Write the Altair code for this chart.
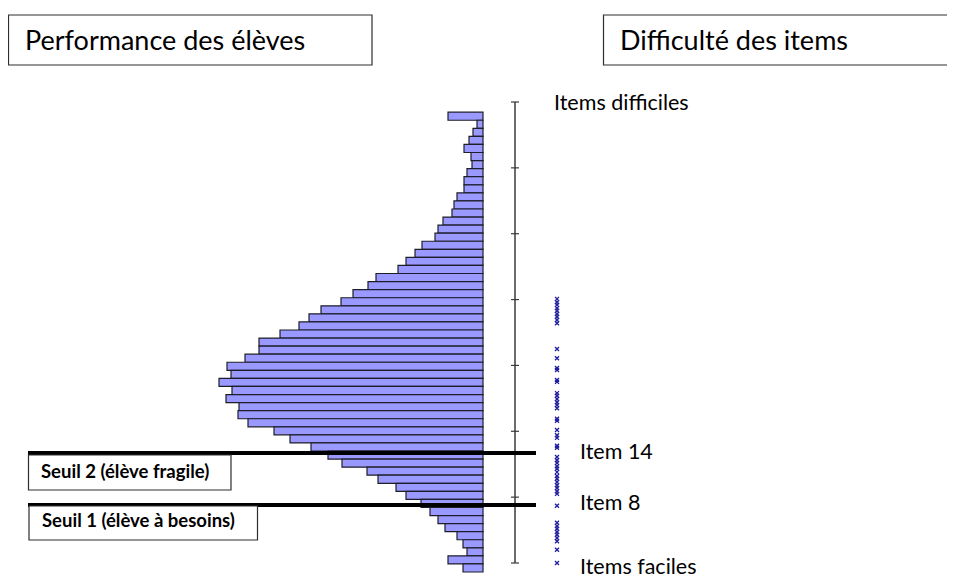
import altair as alt
import pandas as pd

# Student score distribution (bar lengths), listed from the top bin (hardest) to the bottom bin
bar_counts = [35, 6, 10, 14, 19, 12, 11, 16, 19, 19, 26, 29, 31, 40, 45, 48, 61, 68, 77, 85,
              107, 115, 130, 142, 162, 174, 184, 203, 224, 224, 238, 256, 252, 264, 251, 257,
              244, 245, 235, 209, 193, 172, 155, 141, 116, 105, 87, 77, 62, 53, 45, 38, 26,
              20, 16, 35, 20]
bin_bottom = -3.137
bin_width = 0.1225

# Item difficulties (logit scale)
item_difficulty = [1.01, 0.96, 0.92, 0.87, 0.83, 0.78, 0.74, 0.69, 0.64,
                   0.25, 0.11, -0.04, -0.07, -0.22, -0.25,
                   -0.42, -0.46, -0.51, -0.56, -0.60, -0.65, -0.81, -0.84, -0.98,
                   -1.06, -1.10, -1.22, -1.25,
                   -1.39, -1.44, -1.48, -1.53, -1.57, -1.62, -1.68, -1.72, -1.77,
                   -1.82, -1.86, -1.91, -1.95,
                   -2.13, -2.39, -2.44, -2.48, -2.53, -2.57, -2.62, -2.67, -2.80, -3.00]

threshold_names = ["Seuil 2 (élève fragile)", "Seuil 1 (élève à besoins)"]
threshold_values = [-1.33, -2.12]

axis_ticks = [-3, -2, -1, 0, 1, 2, 3, 4]

right_labels = ["Item 14", "Item 8", "Items faciles"]
right_label_values = [-1.33, -2.10, -3.07]
top_label = "Items difficiles"
top_label_value = 3.97

title_left = "Performance des élèves"
title_right = "Difficulté des items"

FONT = "Lato"
Y = alt.Scale(domain=[-3, 4], range=[555, 94])
X = alt.Scale(domain=[0, 300], range=[475, 175])

n = len(bar_counts)
bars_df = pd.DataFrame({
    "count": bar_counts,
    "lo": [bin_bottom + (n - 1 - i) * bin_width for i in range(n)],
})
bars_df["hi"] = bars_df["lo"] + bin_width

bars = alt.Chart(bars_df).mark_rect(fill="#9999ff", stroke="#1e1e2a", strokeWidth=1.2).encode(
    x=alt.X("count:Q", scale=X, axis=None),
    x2=alt.datum(0),
    y=alt.Y("lo:Q", scale=Y, axis=None),
    y2="hi:Q",
)

axis_df = pd.DataFrame({"v": [axis_ticks[0]], "v2": [axis_ticks[-1]]})
axis_line = alt.Chart(axis_df).mark_rule(color="#3a3a3a", strokeWidth=1.5).encode(
    x=alt.value(507),
    y=alt.Y("v:Q", scale=Y, axis=None),
    y2="v2:Q",
)
ticks_df = pd.DataFrame({"v": axis_ticks})
ticks = alt.Chart(ticks_df).mark_rule(color="#3a3a3a", strokeWidth=1.2).encode(
    x=alt.value(503), x2=alt.value(511),
    y=alt.Y("v:Q", scale=Y, axis=None),
)

items_df = pd.DataFrame({"d": item_difficulty})
items = alt.Chart(items_df).mark_point(
    shape="M -1 -1 L 1 1 M -1 1 L 1 -1", filled=False, stroke="#1c1ca0",
    strokeWidth=1.3, size=16, opacity=1,
).encode(
    x=alt.value(549),
    y=alt.Y("d:Q", scale=Y, axis=None),
)

thr_df = pd.DataFrame({"name": threshold_names, "v": threshold_values})
thr_lines = alt.Chart(thr_df).mark_rule(color="black", strokeWidth=4).encode(
    x=alt.value(20), x2=alt.value(528),
    y=alt.Y("v:Q", scale=Y, axis=None),
)

def box(x1, x2, y1, y2):
    return alt.Chart(pd.DataFrame({"k": [1]})).mark_rect(
        fill="white", stroke="#2e2e2e", strokeWidth=1.2
    ).encode(x=alt.value(x1), x2=alt.value(x2), y=alt.value(y1), y2=alt.value(y2))

def label(text, x, y, size, weight="normal"):
    return alt.Chart(pd.DataFrame({"t": [text]})).mark_text(
        align="left", baseline="alphabetic", font=FONT, fontSize=size,
        fontWeight=weight, color="black",
    ).encode(x=alt.value(x), y=alt.value(y), text="t:N")

box_left = box(0.5, 364, 7, 57)
box_right = box(595.5, 960, 7, 57)
box_s2 = box(20.5, 223, 447, 482)
box_s1 = box(21, 249.5, 498, 532)

txt_left = label(title_left, 17, 42, 27)
txt_right = label(title_right, 612, 42, 27)
txt_s2 = label(threshold_names[0], 33, 470, 18.5, "bold")
txt_s1 = label(threshold_names[1], 34, 519, 18.5, "bold")

top_df = pd.DataFrame({"t": [top_label], "v": [top_label_value]})
top_txt = alt.Chart(top_df).mark_text(
    align="left", baseline="middle", font=FONT, fontSize=21.5, color="black"
).encode(x=alt.value(546), y=alt.Y("v:Q", scale=Y, axis=None), text="t:N")

rl_df = pd.DataFrame({"t": right_labels, "v": right_label_values})
rl_txt = alt.Chart(rl_df).mark_text(
    align="left", baseline="middle", font=FONT, fontSize=21.5, color="black"
).encode(x=alt.value(572), y=alt.Y("v:Q", scale=Y, axis=None), text="t:N")

chart = alt.layer(
    bars, axis_line, ticks, items, thr_lines,
    box_left, box_right, box_s2, box_s1,
    txt_left, txt_right, txt_s2, txt_s1, top_txt, rl_txt,
).properties(
    width=939, height=570, autosize=alt.AutoSizeParams(type="none"), padding=0,
).configure_view(strokeWidth=0)

chart.save("out.html", embed_options={"renderer": "svg", "actions": False})
